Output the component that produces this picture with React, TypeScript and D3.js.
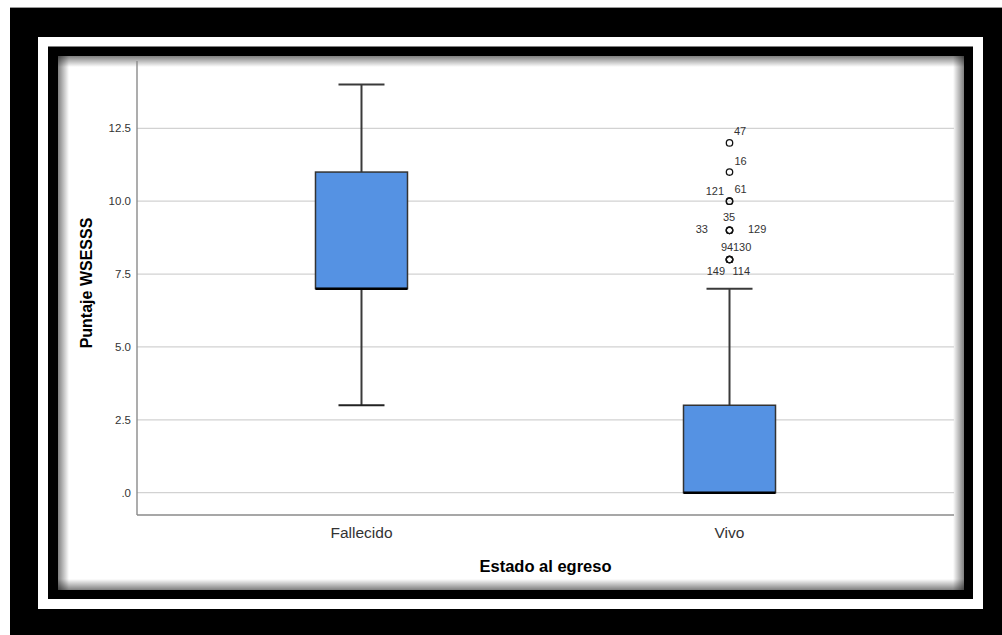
import React from "react";
import * as d3 from "d3";

// Groups on the x axis
const categories = ["Fallecido", "Vivo"];

// Box-plot summary per group
const whiskerLow = [3, 0];
const quartile1 = [7, 0];
const medians = [7, 0];
const quartile3 = [11, 3];
const whiskerHigh = [14, 7];

// Outlying cases (all in the "Vivo" group)
const outlierGroup = "Vivo";
const outlierIds = [47, 16, 121, 61, 35, 33, 129, 94, 130, 149, 114];
const outlierValues = [12, 11, 10, 10, 9, 9, 9, 8, 8, 8, 8];

// Y axis ticks
const yTicks = [0, 2.5, 5, 7.5, 10, 12.5];
const yTickLabels = [".0", "2.5", "5.0", "7.5", "10.0", "12.5"];

// Where each case label sits around its marker
const labelPlacement: Record<number, { dx: number; dy: number; anchor: string }> = {
  47: { dx: 4.5, dy: -11.5, anchor: "start" },
  16: { dx: 5, dy: -11, anchor: "start" },
  121: { dx: -5.5, dy: -10, anchor: "end" },
  61: { dx: 5, dy: -12, anchor: "start" },
  35: { dx: -6.5, dy: -13, anchor: "start" },
  33: { dx: -21.5, dy: -1, anchor: "end" },
  129: { dx: 18.5, dy: -1, anchor: "start" },
  94: { dx: -8.5, dy: -12.5, anchor: "start" },
  130: { dx: 3.5, dy: -12.5, anchor: "start" },
  149: { dx: -4.5, dy: 11.7, anchor: "end" },
  114: { dx: 3, dy: 11.7, anchor: "start" },
};

const W = 1002;
const H = 635;
const plot = { left: 137, right: 954, top: 61, bottom: 515 };
const Y_MIN = -0.765;
const Y_MAX = 14.81;

const FONT = "'Liberation Sans', Arial, Helvetica, sans-serif";
const BOX_FILL = "#5592e3";

const panel = { x0: 58, y0: 56, x1: 964, y1: 590 };
const SHADE = 11;

export default function App() {
  const x = d3
    .scaleBand<string>()
    .domain(categories)
    .range([plot.left, plot.right])
    .paddingInner(0.75)
    .paddingOuter(0.485);
  const y = d3.scaleLinear().domain([Y_MIN, Y_MAX]).range([plot.bottom, plot.top]);
  const bw = x.bandwidth();

  const pw = panel.x1 - panel.x0;
  const ph = panel.y1 - panel.y0;

  return (
    <svg
      width={W}
      height={H}
      viewBox={`0 0 ${W} ${H}`}
      style={{ position: "absolute", left: 0, top: 0, display: "block" }}
    >
      <defs>
        <linearGradient id="shTop" x1="0" y1="0" x2="0" y2="1">
          <stop offset="0" stopColor="#000" stopOpacity={0.5} />
          <stop offset="1" stopColor="#000" stopOpacity={0} />
        </linearGradient>
        <linearGradient id="shBottom" x1="0" y1="1" x2="0" y2="0">
          <stop offset="0" stopColor="#000" stopOpacity={0.5} />
          <stop offset="1" stopColor="#000" stopOpacity={0} />
        </linearGradient>
        <linearGradient id="shLeft" x1="0" y1="0" x2="1" y2="0">
          <stop offset="0" stopColor="#000" stopOpacity={0.5} />
          <stop offset="1" stopColor="#000" stopOpacity={0} />
        </linearGradient>
        <linearGradient id="shRight" x1="1" y1="0" x2="0" y2="0">
          <stop offset="0" stopColor="#000" stopOpacity={0.5} />
          <stop offset="1" stopColor="#000" stopOpacity={0} />
        </linearGradient>
      </defs>

      {/* Frame */}
      <rect x={0} y={0} width={W} height={H} fill="#fff" />
      <line x1={10} x2={W} y1={7.5} y2={7.5} stroke="#999" strokeWidth={1} />
      <rect x={10} y={8} width={W - 10} height={H - 8} fill="#000" />
      <rect x={38} y={37} width={983 - 38} height={609 - 37} fill="#fff" />
      <rect x={48} y={46.5} width={973 - 48} height={599 - 46.5} fill="#000" />
      <rect x={panel.x0} y={panel.y0} width={pw} height={ph} fill="#fff" />
      <rect x={panel.x0} y={panel.y0} width={pw} height={SHADE} fill="url(#shTop)" />
      <rect x={panel.x0} y={panel.y1 - SHADE} width={pw} height={SHADE} fill="url(#shBottom)" />
      <rect x={panel.x0} y={panel.y0} width={SHADE} height={ph} fill="url(#shLeft)" />
      <rect x={panel.x1 - SHADE} y={panel.y0} width={SHADE} height={ph} fill="url(#shRight)" />

      {/* Grid lines */}
      {yTicks.map((t) => (
        <line
          key={`g${t}`}
          x1={plot.left}
          x2={plot.right}
          y1={y(t)}
          y2={y(t)}
          stroke="#d2d2d2"
          strokeWidth={1.3}
        />
      ))}

      {/* Axes */}
      <line x1={plot.left} x2={plot.left} y1={plot.top} y2={plot.bottom} stroke="#8a8a8a" strokeWidth={1.4} />
      <line x1={plot.left} x2={plot.right} y1={plot.bottom} y2={plot.bottom} stroke="#8a8a8a" strokeWidth={1.4} />

      {yTicks.map((t, i) => (
        <text
          key={`t${t}`}
          x={131}
          y={y(t)}
          dy="0.36em"
          textAnchor="end"
          fontFamily={FONT}
          fontSize={11.5}
          fill="#333"
        >
          {yTickLabels[i]}
        </text>
      ))}

      {categories.map((c) => (
        <text
          key={`c${c}`}
          x={(x(c) as number) + bw / 2}
          y={532}
          dy="0.36em"
          textAnchor="middle"
          fontFamily={FONT}
          fontSize={15.5}
          fill="#333"
        >
          {c}
        </text>
      ))}

      <text
        x={(plot.left + plot.right) / 2}
        y={566.5}
        dy="0.36em"
        textAnchor="middle"
        fontFamily={FONT}
        fontSize={16.5}
        fontWeight="bold"
        fill="#000"
      >
        Estado al egreso
      </text>
      <text
        transform={`translate(86,${(218 + 348) / 2}) rotate(-90)`}
        dy="0.36em"
        textAnchor="middle"
        fontFamily={FONT}
        fontSize={16}
        fontWeight="bold"
        fill="#000"
      >
        Puntaje WSESSS
      </text>

      {/* Boxes and whiskers */}
      {categories.map((c, i) => {
        const x0 = x(c) as number;
        const cx = x0 + bw / 2;
        const cap = bw / 4;
        return (
          <g key={`b${c}`}>
            <line x1={cx} x2={cx} y1={y(whiskerHigh[i])} y2={y(quartile3[i])} stroke="#3a3a3a" strokeWidth={2} />
            <line x1={cx} x2={cx} y1={y(quartile1[i])} y2={y(whiskerLow[i])} stroke="#3a3a3a" strokeWidth={2} />
            <line x1={cx - cap} x2={cx + cap} y1={y(whiskerHigh[i])} y2={y(whiskerHigh[i])} stroke="#3a3a3a" strokeWidth={2} />
            <line x1={cx - cap} x2={cx + cap} y1={y(whiskerLow[i])} y2={y(whiskerLow[i])} stroke="#222" strokeWidth={2} />
            <rect
              x={x0}
              y={y(quartile3[i])}
              width={bw}
              height={y(quartile1[i]) - y(quartile3[i])}
              fill={BOX_FILL}
              stroke="#333"
              strokeWidth={1.5}
            />
            <line x1={x0} x2={x0 + bw} y1={y(medians[i])} y2={y(medians[i])} stroke="#000" strokeWidth={2.5} />
          </g>
        );
      })}

      {/* Outliers with case labels */}
      {outlierIds.map((id, i) => {
        const cx = (x(outlierGroup) as number) + bw / 2;
        const cy = y(outlierValues[i]);
        const p = labelPlacement[id];
        return (
          <g key={`o${id}`}>
            <circle cx={cx} cy={cy} r={3.2} fill="none" stroke="#111" strokeWidth={1.3} />
            <text
              x={cx + p.dx}
              y={cy + p.dy}
              dy="0.36em"
              textAnchor={p.anchor}
              fontFamily={FONT}
              fontSize={11}
              fill="#333"
            >
              {id}
            </text>
          </g>
        );
      })}
    </svg>
  );
}
